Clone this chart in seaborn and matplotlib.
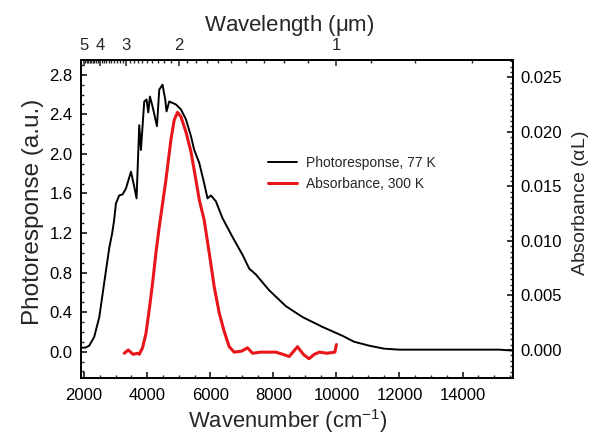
import numpy as np
import pandas as pd
import matplotlib
matplotlib.use("Agg")
import matplotlib.pyplot as plt
from matplotlib.ticker import MultipleLocator, FixedLocator
import seaborn as sns

# ---- data ----
pr_wavenumber = [1900, 2035, 2160, 2320, 2480, 2637, 2796, 2890, 2950, 3008, 3113, 3217,
                 3325, 3484, 3588, 3661, 3747, 3800, 3905, 3978, 4032, 4086, 4168, 4308,
                 4381, 4485, 4571, 4612, 4698, 4910, 5069, 5227, 5386, 5490, 5649, 5807,
                 5912, 6020, 6178, 6387, 6704, 7021, 7234, 7446, 7868, 8397, 8923, 9557,
                 9982, 10191, 10560, 11040, 11510, 11990, 13000, 14000, 15160, 15600]
pr_signal = [0.04, 0.04, 0.06, 0.15, 0.35, 0.70, 1.05, 1.20, 1.33, 1.50, 1.58, 1.59,
             1.65, 1.82, 1.67, 1.55, 2.29, 2.04, 2.53, 2.55, 2.42, 2.58, 2.48, 2.28,
             2.65, 2.70, 2.55, 2.43, 2.53, 2.50, 2.45, 2.35, 2.18, 2.04, 1.91, 1.70,
             1.55, 1.58, 1.52, 1.35, 1.16, 0.98, 0.84, 0.78, 0.62, 0.46, 0.35, 0.25,
             0.19, 0.16, 0.10, 0.06, 0.03, 0.02, 0.02, 0.02, 0.02, 0.01]

ab_wavenumber = [3271, 3400, 3550, 3700, 3747, 3851, 3959, 4064, 4168, 4276, 4381, 4485,
                 4593, 4752, 4856, 4961, 5069, 5227, 5386, 5544, 5649, 5807, 5966, 6124,
                 6283, 6441, 6600, 6758, 7000, 7180, 7338, 7600, 8080, 8300, 8502, 8765,
                 8950, 9131, 9300, 9459, 9700, 9950, 10000]
ab_signal = [-0.0003, 0.0000, -0.0004, -0.0003, -0.0004, 0.0002, 0.0015, 0.0037, 0.0061,
             0.0089, 0.0113, 0.0134, 0.0156, 0.0193, 0.0211, 0.0218, 0.0214, 0.0200,
             0.0182, 0.0156, 0.0138, 0.0119, 0.0089, 0.0058, 0.0034, 0.0017, 0.0003,
             -0.0002, -0.0001, 0.0002, -0.0003, -0.0002, -0.0002, -0.0004, -0.0006,
             0.0003, -0.0004, -0.0008, -0.0004, -0.0002, -0.0003, -0.0002, 0.0005]

wl_major = [5, 4, 3, 2, 1]
wl_minor = [round(v, 1) for v in np.arange(0.7, 5.0, 0.1)]

# ---- style ----
sns.set_style("ticks")
plt.rcParams['font.family'] = ['Liberation Sans', 'DejaVu Sans']
plt.rcParams['mathtext.fontset'] = 'custom'
plt.rcParams['mathtext.rm'] = 'Liberation Sans'
plt.rcParams['mathtext.it'] = 'Liberation Sans'

fig = plt.figure(figsize=(5.97, 4.36), dpi=100)
ax = fig.add_axes([0.1357, 0.1323, 0.7236, 0.7301])
ax2 = ax.twinx()

df_pr = pd.DataFrame({"wn": pr_wavenumber, "val": pr_signal})
df_ab = pd.DataFrame({"wn": ab_wavenumber, "val": ab_signal})

sns.lineplot(data=df_pr, x="wn", y="val", ax=ax, color="black", linewidth=1.4,
             label="Photoresponse, 77 K", legend=False)
sns.lineplot(data=df_ab, x="wn", y="val", ax=ax2, color="#e8161b", linewidth=2.2,
             label="Absorbance, 300 K", legend=False)

ax.set_xlim(1900, 15600)
ax.set_ylim(-0.27, 2.95)
ax2.set_ylim(-0.0026, 0.0266)

ax.xaxis.set_major_locator(MultipleLocator(2000))
ax.xaxis.set_minor_locator(MultipleLocator(500))
ax.yaxis.set_major_locator(MultipleLocator(0.4))
ax.yaxis.set_minor_locator(MultipleLocator(0.1))
ax.yaxis.set_major_formatter(matplotlib.ticker.FormatStrFormatter('%.1f'))
ax2.yaxis.set_major_locator(MultipleLocator(0.005))
ax2.yaxis.set_minor_locator(MultipleLocator(0.0005))
ax2.yaxis.set_major_formatter(matplotlib.ticker.FormatStrFormatter('%.3f'))

for a in (ax, ax2):
    for s in a.spines.values():
        s.set_linewidth(1.3)
        s.set_color("black")
    a.tick_params(which='major', direction='in', length=4.5, width=1.1, labelsize=12, colors='black')
    a.tick_params(which='minor', direction='in', length=2.5, width=1.0)
ax.tick_params(axis='x', which='major', pad=7)
ax.tick_params(axis='y', which='major', pad=6)
ax2.tick_params(axis='y', which='major', pad=5)

ax.set_xlabel("Wavenumber (cm$^{-1}$)", fontsize=15.8, labelpad=3)
ax.xaxis.label.set_x(0.478)
ax.set_ylabel("Photoresponse (a.u.)", fontsize=17.5, labelpad=4)
ax.yaxis.label.set_y(0.522)
ax2.set_ylabel("Absorbance ($\\alpha$L)", fontsize=14, labelpad=6)
ax2.yaxis.label.set_y(0.551)


def wn2wl(x):
    x = np.asarray(x, dtype=float)
    with np.errstate(divide='ignore'):
        return np.where(x != 0, 1e4 / np.where(x != 0, x, 1), np.inf)


secax = ax.secondary_xaxis('top', functions=(wn2wl, wn2wl))
secax.xaxis.set_major_locator(FixedLocator(wl_major))
secax.xaxis.set_minor_locator(FixedLocator(wl_minor))
secax.xaxis.set_major_formatter(matplotlib.ticker.FormatStrFormatter('%d'))
secax.tick_params(which='major', direction='in', length=4.5, width=1.1, labelsize=12, pad=5)
secax.tick_params(which='minor', direction='in', length=2.5, width=1.0)
secax.spines['top'].set_linewidth(1.3)
secax.set_xlabel("Wavelength ($\\mu$m)", fontsize=16, labelpad=5)
secax.xaxis.label.set_x(0.481)

h1, l1 = ax.get_legend_handles_labels()
h2, l2 = ax2.get_legend_handles_labels()
leg = ax.legend(h1 + h2, l1 + l2, loc='upper left', bbox_to_anchor=(0.428, 0.672),
                bbox_transform=fig.transFigure, frameon=False, fontsize=10,
                handlelength=2.1, handletextpad=0.6, labelspacing=0.55)

fig.savefig("out.png", dpi=100)
